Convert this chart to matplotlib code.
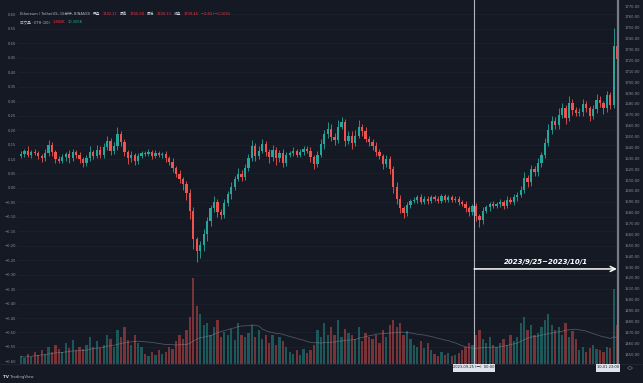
import numpy as np
import pandas as pd
import matplotlib
matplotlib.use("Agg")
import matplotlib.pyplot as plt
from matplotlib.patches import Rectangle, Circle

plt.rcParams['font.family'] = ['DejaVu Sans', 'Noto Sans CJK SC']

# ---------------- data (4h bars, Sep 3 2023 -> Oct 1 2023) ----------------
open0 = 1632
closes = [
    1634, 1637, 1633, 1636, 1635, 1632,   # Sep 3
    1630, 1635, 1642, 1636, 1629, 1628,   # Sep 4
    1631, 1634, 1630, 1636, 1633, 1629,   # Sep 5
    1626, 1630, 1636, 1632, 1638, 1633,   # Sep 6
    1640, 1646, 1637, 1641, 1652, 1645,   # Sep 7
    1636, 1630, 1633, 1628, 1632, 1635,   # Sep 8
    1634, 1636, 1632, 1635, 1633, 1634,   # Sep 9
    1630, 1627, 1621, 1616, 1611, 1606,   # Sep 10
    1598, 1582, 1556, 1545, 1550, 1560,   # Sep 11
    1572, 1584, 1590, 1581, 1578, 1589,   # Sep 12
    1597, 1604, 1611, 1616, 1613, 1621,   # Sep 13
    1630, 1641, 1632, 1637, 1643, 1636,   # Sep 14
    1631, 1638, 1630, 1635, 1626, 1633,   # Sep 15
    1635, 1637, 1633, 1636, 1639, 1637,   # Sep 16
    1631, 1625, 1633, 1643, 1652, 1657,   # Sep 17
    1650, 1647, 1659, 1663, 1646, 1651,   # Sep 18
    1644, 1651, 1659, 1655, 1648, 1645,   # Sep 19
    1641, 1636, 1632, 1625, 1629, 1620,   # Sep 20
    1604, 1593, 1584, 1580, 1587, 1591,   # Sep 21
    1592, 1594, 1590, 1593, 1591, 1594,   # Sep 22
    1593, 1591, 1595, 1592, 1594, 1592,   # Sep 23
    1593, 1590, 1588, 1584, 1581, 1586,   # Sep 24
    1577, 1573, 1582, 1585, 1588, 1586,   # Sep 25
    1588, 1590, 1586, 1592, 1590, 1594,   # Sep 26
    1596, 1601, 1612, 1608, 1620, 1617,   # Sep 27
    1626, 1633, 1644, 1656, 1664, 1661,   # Sep 28
    1670, 1676, 1667, 1681, 1674, 1672,   # Sep 29
    1673, 1680, 1676, 1669, 1675, 1684,   # Sep 30
    1681, 1676, 1688, 1679, 1733, 1721,   # Oct 1
]
hi_ext = [
    3, 2, 4, 2, 3, 2,  2, 4, 5, 3, 2, 3,  3, 2, 4, 3, 2, 3,  2, 3, 5, 2, 4, 3,
    4, 5, 3, 4, 7, 3,  3, 2, 4, 2, 3, 2,  2, 3, 2, 3, 2, 2,  3, 2, 3, 2, 3, 2,
    3, 4, 3, 2, 4, 5,  4, 3, 5, 3, 2, 4,  3, 4, 3, 5, 3, 4,  4, 6, 3, 4, 5, 3,
    3, 4, 2, 3, 4, 3,  2, 3, 2, 3, 2, 2,  3, 2, 4, 5, 4, 6,  5, 3, 6, 5, 3, 4,
    4, 5, 6, 3, 4, 3,  3, 4, 3, 2, 4, 3,  3, 4, 3, 2, 3, 2,  2, 2, 3, 2, 2, 2,
    2, 2, 2, 2, 2, 2,  2, 2, 2, 3, 2, 2,  3, 2, 3, 2, 2, 3,  2, 3, 2, 3, 2, 3,
    3, 4, 5, 3, 4, 3,  4, 3, 5, 6, 5, 4,  6, 5, 3, 6, 4, 3,  3, 5, 3, 2, 4, 5,
    3, 2, 4, 3, 17, 4,
]
lo_ext = [
    2, 3, 2, 3, 2, 3,  3, 2, 3, 4, 3, 2,  2, 3, 4, 2, 3, 3,  4, 3, 2, 3, 2, 3,
    3, 2, 4, 3, 3, 4,  4, 5, 3, 4, 3, 2,  2, 2, 3, 2, 2, 3,  3, 3, 4, 3, 4, 5,
    6, 8, 9, 10, 7, 5, 6, 4, 3, 5, 4, 3,  3, 4, 3, 2, 4, 3,  3, 2, 4, 3, 2, 4,
    5, 3, 6, 3, 4, 3,  2, 3, 2, 2, 3, 2,  4, 5, 3, 2, 4, 3,  4, 5, 3, 2, 5, 3,
    5, 3, 2, 4, 3, 4,  3, 4, 3, 5, 3, 4,  6, 5, 4, 5, 3, 3,  2, 3, 2, 2, 3, 2,
    2, 2, 2, 2, 2, 2,  2, 3, 2, 3, 4, 3,  5, 6, 3, 2, 3, 2,  2, 3, 3, 2, 2, 3,
    3, 2, 3, 4, 3, 3,  3, 4, 3, 3, 4, 4,  4, 3, 5, 3, 4, 3,  3, 4, 3, 5, 3, 3,
    4, 5, 3, 4, 3, 5,
]
volumes = [
    8, 6, 10, 7, 12, 9,      14, 10, 18, 12, 20, 15,   12, 22, 16, 25, 14, 18,
    15, 20, 28, 18, 24, 16,  20, 30, 26, 18, 35, 28,   38, 25, 20, 30, 22, 18,
    10, 8, 12, 9, 14, 10,    12, 18, 15, 24, 30, 26,   35, 48, 89, 60, 52, 40,
    42, 30, 38, 45, 28, 33,  30, 36, 25, 42, 30, 28,   32, 40, 28, 35, 26, 30,
    22, 30, 20, 28, 24, 18,  12, 10, 14, 9, 15, 11,    14, 20, 35, 28, 42, 30,
    38, 30, 45, 28, 36, 32,  30, 26, 38, 24, 32, 28,   26, 30, 22, 35, 28, 40,
    45, 38, 42, 30, 34, 26,  20, 18, 24, 16, 22, 14,   10, 8, 12, 9, 11, 8,
    9, 11, 14, 18, 22, 20,   30, 35, 26, 22, 28, 20,   18, 22, 26, 20, 30, 24,
    28, 42, 48, 35, 40, 30,  32, 38, 45, 52, 40, 35,   38, 30, 42, 28, 34, 26,
    14, 18, 12, 16, 20, 15,  14, 12, 18, 16, 77, 40,
]
first_day = 3          # Sep 3
bars_per_day = 6       # 4-hour bars

time_ticks = [4, 6, 8, 9.5, 11, 13, 15, 16.5, 18, 20, 22, 23.5, 27, 29]
time_labels = ["4", "6", "8", "12:00", "11", "13", "15", "12:00",
               "18", "20", "22", "12:00", "27", "29"]
price_ticks = list(range(1450, 1771, 10))
pct_ticks = [round(v, 2) for v in np.arange(-0.60, 0.601, 0.05)]

range_start, range_end = 25, 31.9
range_text = "2023/9/25~2023/10/1"

legend_line1 = [("Ethereum / TetherUS, 15分钟, BINANCE", '#b2b5be'),
                ("开盘", '#d1d4dc'), ("1742.17", '#f23645'),
                ("最高", '#d1d4dc'), ("1745.00", '#f23645'),
                ("最低", '#d1d4dc'), ("1740.13", '#f23645'),
                ("收盘", '#d1d4dc'), ("1739.44", '#f23645'),
                ("\u22122.84 (\u22120.16%)", '#f23645')]
legend_line2 = [("成交量 · ETH (20)", '#b2b5be'), ("1.882K", '#f23645'),
                ("10.305K", '#26a69a')]

# ---------------- derived ----------------
closes = np.array(closes, float)
opens = np.concatenate([[open0], closes[:-1]])
highs = np.maximum(opens, closes) + np.array(hi_ext)
lows = np.minimum(opens, closes) - np.array(lo_ext)
n = len(closes)
t = first_day + (np.arange(n) + 0.5) / bars_per_day
up = closes >= opens
vol = np.array(volumes, float)
vol_ma = pd.Series(vol).rolling(20, min_periods=1).mean().values

BG = '#151924'
UP = '#26a69a'
DN = '#ef5350'
TXT = '#8c909c'

W, H = 643, 383
fig = plt.figure(figsize=(W / 100, H / 100), dpi=100, facecolor=BG)
Lp, Rp, Tp, Bp = 18, 620, 0, 364
rect = [Lp / W, 1 - Bp / H, (Rp - Lp) / W, (Bp - Tp) / H]
xlim = (2.94, 32.05)

# left (percentage) scale + background + grid
axl = fig.add_axes(rect)
axl.set_facecolor(BG)
axl.set_xlim(*xlim)
axl.set_ylim(-0.609, 0.650)
axl.set_yticks(pct_ticks)
axl.set_yticklabels([f"{v:.2f}".replace('-', '\u2212') for v in pct_ticks])
axl.yaxis.tick_left()
axl.tick_params(axis='y', length=0, pad=1.2, labelsize=2.7, labelcolor=TXT)
axl.set_xticks(time_ticks)
axl.set_xticklabels(time_labels)
axl.tick_params(axis='x', length=0, pad=2.2, labelsize=2.7, labelcolor=TXT)
axl.grid(True, color='#1d2230', lw=0.5)
axl.set_axisbelow(True)
for s in axl.spines.values():
    s.set_visible(False)

# volume
axv = fig.add_axes(rect, sharex=axl)
axv.patch.set_alpha(0)
axv.set_ylim(0, 375)
axv.bar(t, vol, width=0.11, color=np.where(up, UP, DN), alpha=0.45, linewidth=0)
axv.plot(t, vol_ma, color='#8a8e99', lw=0.6, alpha=0.5)
axv.set_xticks([])
axv.set_yticks([])
for s in axv.spines.values():
    s.set_visible(False)

# price
axp = fig.add_axes(rect, sharex=axl)
axp.patch.set_alpha(0)
axp.set_xlim(*xlim)
axp.set_ylim(1440.9, 1775.6)
cols = np.where(up, UP, DN)
axp.vlines(t, lows, highs, colors=cols, lw=0.6)
body = np.where(np.abs(closes - opens) < 0.6, 0.6, closes - opens)
axp.bar(t, body, bottom=opens, width=0.11, color=cols, linewidth=0)
axp.yaxis.tick_right()
axp.set_yticks(price_ticks)
axp.set_yticklabels([f"{p:.2f}" for p in price_ticks])
axp.tick_params(axis='y', length=0, pad=3, labelsize=2.7, labelcolor=TXT)
axp.tick_params(axis='x', bottom=False, labelbottom=False)
for s in axp.spines.values():
    s.set_visible(False)

axp.axvline(range_start, color='#b2b5be', lw=0.8)
axp.axvline(31.95, color='#787b86', lw=1.6)
y_arrow = 1528.3
axp.annotate('', xy=(range_end, y_arrow), xytext=(range_start, y_arrow),
             arrowprops=dict(arrowstyle='->', color='white', lw=1.1,
                             mutation_scale=9, shrinkA=0, shrinkB=0))
axp.text((range_start + range_end) / 2, 1534.8, range_text, ha='center',
         va='center', fontsize=5, color='white', fontstyle='italic',
         fontweight='bold')

# ---------------- figure-level text ----------------
renderer = fig.canvas.get_renderer()

def ftxt(x, y, s, color=TXT, size=2.7, **kw):
    return fig.text(x / W, 1 - y / H, s, color=color, fontsize=size, va='center', **kw)

def seq_text(x0, y, parts, size=2.6, gap=2.5):
    x = x0
    for s, c in parts:
        tx = ftxt(x, y, s, color=c, size=size)
        bb = tx.get_window_extent(renderer=renderer)
        x += bb.width + gap

seq_text(20, 14, legend_line1)
seq_text(20, 22, legend_line2)

def pxbox(xc, yc, w, h, s):
    fig.patches.append(Rectangle(((xc - w / 2) / W, 1 - (yc + h / 2) / H), w / W, h / H,
                                 transform=fig.transFigure, facecolor='#e0e3eb',
                                 edgecolor='none', zorder=5))
    fig.text(xc / W, 1 - yc / H, s, ha='center', va='center', fontsize=2.6,
             color='#131722', zorder=6)

pxbox(474, 367.5, 42, 8, "2023-09-25 (一)  00:00")
pxbox(608, 367.5, 24, 8, "10-01 23:00")

fig.lines.append(plt.Line2D([0, 1], [1 - 364 / H, 1 - 364 / H], transform=fig.transFigure,
                            color='#232734', lw=0.6))
fig.patches.append(Circle((630 / W, 1 - 368 / H), 2.2 / W, transform=fig.transFigure,
                          facecolor='none', edgecolor='#6a6e7a', lw=0.5))
ftxt(3, 377, "TV", color='#d1d4dc', size=3, fontweight='bold')
ftxt(10, 377, "TradingView", color='#b2b5be', size=2.8)

fig.savefig("out.png", dpi=100, facecolor=BG)
